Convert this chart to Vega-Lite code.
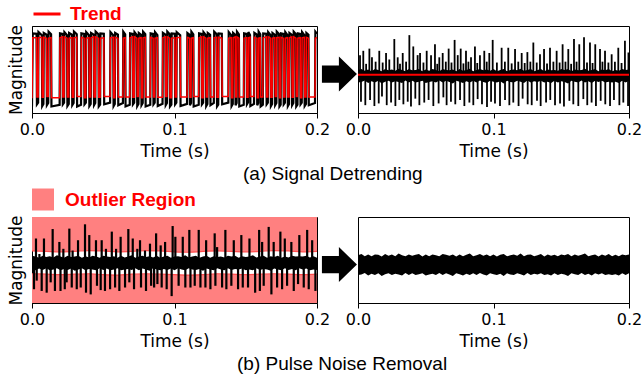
{
"$schema": "https://vega.github.io/schema/vega-lite/v6.json",
"padding": {"left": 6, "top": 0, "right": 0, "bottom": 0},
"config": {
 "view": {"stroke": "black", "strokeWidth": 1},
 "axis": {"labelFont": "DejaVu Sans", "titleFont": "DejaVu Sans", "labelFontSize": 16, "titleFontSize": 17, "titleFontWeight": "normal", "labelColor": "black", "titleColor": "black", "domainColor": "black", "tickColor": "black", "grid": false},
 "legend": {"padding": 0}
},
"datasets": {
"trend": [
{"t":0,"v":-0.66,"r":-0.85},
{"t":0.0005,"v":0.73,"r":0.83},
{"t":0.0032,"v":0.73,"r":0.82},{"t":0.00345,"v":-0.63,"r":-0.8},{"t":0.0043,"v":-0.63,"r":-0.76},{"t":0.00455,"v":0.73,"r":0.86},
{"t":0.0069,"v":0.74,"r":0.79},{"t":0.00715,"v":-0.64,"r":-0.84},{"t":0.008,"v":-0.64,"r":-0.79},{"t":0.00825,"v":0.74,"r":0.84},
{"t":0.0102,"v":0.72,"r":0.8},{"t":0.01045,"v":-0.62,"r":-0.82},{"t":0.0114,"v":-0.62,"r":-0.77},{"t":0.01165,"v":0.72,"r":0.87},
{"t":0.0134,"v":0.73,"r":0.81},{"t":0.01365,"v":-0.65,"r":-0.85},{"t":0.0194,"v":-0.65,"r":-0.81},{"t":0.01965,"v":0.73,"r":0.83},
{"t":0.0214,"v":0.75,"r":0.82},{"t":0.02165,"v":-0.63,"r":-0.8},{"t":0.0225,"v":-0.63,"r":-0.76},{"t":0.02275,"v":0.75,"r":0.86},
{"t":0.0246,"v":0.72,"r":0.79},{"t":0.02485,"v":-0.63,"r":-0.84},{"t":0.0258,"v":-0.63,"r":-0.79},{"t":0.02605,"v":0.72,"r":0.84},
{"t":0.028,"v":0.73,"r":0.8},{"t":0.02825,"v":-0.64,"r":-0.82},{"t":0.0292,"v":-0.64,"r":-0.77},{"t":0.02945,"v":0.73,"r":0.87},
{"t":0.0314,"v":0.74,"r":0.81},{"t":0.03165,"v":-0.62,"r":-0.85},{"t":0.0344,"v":-0.62,"r":-0.81},{"t":0.03465,"v":0.74,"r":0.83},
{"t":0.0366,"v":0.72,"r":0.82},{"t":0.03685,"v":-0.65,"r":-0.8},{"t":0.0378,"v":-0.65,"r":-0.76},{"t":0.03805,"v":0.72,"r":0.86},
{"t":0.04,"v":0.73,"r":0.79},{"t":0.04025,"v":-0.63,"r":-0.84},{"t":0.0412,"v":-0.63,"r":-0.79},{"t":0.04145,"v":0.73,"r":0.84},
{"t":0.0433,"v":0.75,"r":0.8},{"t":0.04355,"v":-0.63,"r":-0.82},{"t":0.0444,"v":-0.63,"r":-0.77},{"t":0.04465,"v":0.75,"r":0.87},
{"t":0.0466,"v":0.72,"r":0.81},{"t":0.04685,"v":-0.64,"r":-0.85},{"t":0.0478,"v":-0.64,"r":-0.81},{"t":0.04805,"v":0.72,"r":0.83},
{"t":0.0504,"v":0.73,"r":0.82},{"t":0.05065,"v":-0.62,"r":-0.8},{"t":0.0548,"v":-0.62,"r":-0.76},{"t":0.05505,"v":0.73,"r":0.86},
{"t":0.057,"v":0.74,"r":0.79},{"t":0.05725,"v":-0.65,"r":-0.84},{"t":0.0581,"v":-0.65,"r":-0.79},{"t":0.05835,"v":0.74,"r":0.84},
{"t":0.0603,"v":0.72,"r":0.8},{"t":0.06055,"v":-0.63,"r":-0.82},{"t":0.0638,"v":-0.63,"r":-0.77},{"t":0.06405,"v":0.72,"r":0.87},
{"t":0.0654,"v":0.73,"r":0.81},{"t":0.06565,"v":-0.63,"r":-0.85},{"t":0.0686,"v":-0.63,"r":-0.81},{"t":0.06885,"v":0.73,"r":0.83},
{"t":0.0706,"v":0.75,"r":0.82},{"t":0.07085,"v":-0.64,"r":-0.8},{"t":0.0717,"v":-0.64,"r":-0.76},{"t":0.07195,"v":0.75,"r":0.86},
{"t":0.0736,"v":0.72,"r":0.79},{"t":0.07385,"v":-0.62,"r":-0.84},{"t":0.0747,"v":-0.62,"r":-0.79},{"t":0.07495,"v":0.72,"r":0.84},
{"t":0.0766,"v":0.73,"r":0.8},{"t":0.07685,"v":-0.65,"r":-0.82},{"t":0.0777,"v":-0.65,"r":-0.77},{"t":0.07795,"v":0.73,"r":0.87},
{"t":0.0795,"v":0.74,"r":0.81},{"t":0.07975,"v":-0.63,"r":-0.85},{"t":0.083,"v":-0.63,"r":-0.81},{"t":0.08325,"v":0.74,"r":0.83},
{"t":0.085,"v":0.72,"r":0.82},{"t":0.08525,"v":-0.63,"r":-0.8},{"t":0.0861,"v":-0.63,"r":-0.76},{"t":0.08635,"v":0.72,"r":0.86},
{"t":0.088,"v":0.73,"r":0.79},{"t":0.08825,"v":-0.64,"r":-0.84},{"t":0.0916,"v":-0.64,"r":-0.79},{"t":0.09185,"v":0.73,"r":0.84},
{"t":0.0936,"v":0.75,"r":0.8},{"t":0.09385,"v":-0.62,"r":-0.82},{"t":0.0947,"v":-0.62,"r":-0.77},{"t":0.09495,"v":0.75,"r":0.87},
{"t":0.0966,"v":0.72,"r":0.81},{"t":0.09685,"v":-0.65,"r":-0.85},{"t":0.0978,"v":-0.65,"r":-0.81},{"t":0.09805,"v":0.72,"r":0.83},
{"t":0.1002,"v":0.73,"r":0.82},{"t":0.10045,"v":-0.63,"r":-0.8},{"t":0.1013,"v":-0.63,"r":-0.76},{"t":0.10155,"v":0.73,"r":0.86},
{"t":0.104,"v":0.74,"r":0.79},{"t":0.10425,"v":-0.63,"r":-0.84},{"t":0.1088,"v":-0.63,"r":-0.79},{"t":0.10905,"v":0.74,"r":0.84},
{"t":0.1106,"v":0.72,"r":0.8},{"t":0.11085,"v":-0.64,"r":-0.82},{"t":0.1116,"v":-0.64,"r":-0.77},{"t":0.11185,"v":0.72,"r":0.87},
{"t":0.1132,"v":0.73,"r":0.81},{"t":0.11345,"v":-0.62,"r":-0.85},{"t":0.117,"v":-0.62,"r":-0.81},{"t":0.11725,"v":0.73,"r":0.83},
{"t":0.119,"v":0.75,"r":0.82},{"t":0.11925,"v":-0.65,"r":-0.8},{"t":0.1201,"v":-0.65,"r":-0.76},{"t":0.12035,"v":0.75,"r":0.86},
{"t":0.122,"v":0.72,"r":0.79},{"t":0.12225,"v":-0.63,"r":-0.84},{"t":0.1231,"v":-0.63,"r":-0.79},{"t":0.12335,"v":0.72,"r":0.84},
{"t":0.125,"v":0.73,"r":0.8},{"t":0.12525,"v":-0.63,"r":-0.82},{"t":0.1276,"v":-0.63,"r":-0.77},{"t":0.12785,"v":0.73,"r":0.87},
{"t":0.1296,"v":0.74,"r":0.81},{"t":0.12985,"v":-0.64,"r":-0.85},{"t":0.1307,"v":-0.64,"r":-0.81},{"t":0.13095,"v":0.74,"r":0.83},
{"t":0.1332,"v":0.72,"r":0.82},{"t":0.13345,"v":-0.62,"r":-0.8},{"t":0.1378,"v":-0.62,"r":-0.76},{"t":0.13805,"v":0.72,"r":0.86},
{"t":0.1398,"v":0.73,"r":0.79},{"t":0.14005,"v":-0.65,"r":-0.84},{"t":0.1409,"v":-0.65,"r":-0.79},{"t":0.14115,"v":0.73,"r":0.84},
{"t":0.1426,"v":0.75,"r":0.8},{"t":0.14285,"v":-0.63,"r":-0.82},{"t":0.1436,"v":-0.63,"r":-0.77},{"t":0.14385,"v":0.75,"r":0.87},
{"t":0.1452,"v":0.72,"r":0.81},{"t":0.14545,"v":-0.63,"r":-0.85},{"t":0.1486,"v":-0.63,"r":-0.81},{"t":0.14885,"v":0.72,"r":0.83},
{"t":0.1506,"v":0.73,"r":0.82},{"t":0.15085,"v":-0.64,"r":-0.8},{"t":0.1516,"v":-0.64,"r":-0.76},{"t":0.15185,"v":0.73,"r":0.86},
{"t":0.153,"v":0.74,"r":0.79},{"t":0.15325,"v":-0.62,"r":-0.84},{"t":0.1558,"v":-0.62,"r":-0.79},{"t":0.15605,"v":0.74,"r":0.84},
{"t":0.1578,"v":0.72,"r":0.8},{"t":0.15805,"v":-0.65,"r":-0.82},{"t":0.1588,"v":-0.65,"r":-0.77},{"t":0.15905,"v":0.72,"r":0.87},
{"t":0.1602,"v":0.73,"r":0.81},{"t":0.16045,"v":-0.63,"r":-0.85},{"t":0.162,"v":-0.63,"r":-0.81},{"t":0.16225,"v":0.73,"r":0.83},
{"t":0.1644,"v":0.75,"r":0.82},{"t":0.16465,"v":-0.63,"r":-0.8},{"t":0.1655,"v":-0.63,"r":-0.76},{"t":0.16575,"v":0.75,"r":0.86},
{"t":0.1674,"v":0.72,"r":0.79},{"t":0.16765,"v":-0.64,"r":-0.84},{"t":0.1685,"v":-0.64,"r":-0.79},{"t":0.16875,"v":0.72,"r":0.84},
{"t":0.1704,"v":0.73,"r":0.8},{"t":0.17065,"v":-0.62,"r":-0.82},{"t":0.1715,"v":-0.62,"r":-0.77},{"t":0.17175,"v":0.73,"r":0.87},
{"t":0.1734,"v":0.74,"r":0.81},{"t":0.17365,"v":-0.65,"r":-0.85},{"t":0.1745,"v":-0.65,"r":-0.81},{"t":0.17475,"v":0.74,"r":0.83},
{"t":0.1764,"v":0.72,"r":0.82},{"t":0.17665,"v":-0.63,"r":-0.8},{"t":0.1775,"v":-0.63,"r":-0.76},{"t":0.17775,"v":0.72,"r":0.86},
{"t":0.1793,"v":0.73,"r":0.79},{"t":0.17955,"v":-0.63,"r":-0.84},{"t":0.1804,"v":-0.63,"r":-0.79},{"t":0.18065,"v":0.73,"r":0.84},
{"t":0.1823,"v":0.75,"r":0.8},{"t":0.18255,"v":-0.64,"r":-0.82},{"t":0.1834,"v":-0.64,"r":-0.77},{"t":0.18365,"v":0.75,"r":0.87},
{"t":0.1852,"v":0.72,"r":0.81},{"t":0.18545,"v":-0.62,"r":-0.85},{"t":0.1863,"v":-0.62,"r":-0.81},{"t":0.18655,"v":0.72,"r":0.83},
{"t":0.1882,"v":0.73,"r":0.82},{"t":0.18845,"v":-0.65,"r":-0.8},{"t":0.1893,"v":-0.65,"r":-0.76},{"t":0.18955,"v":0.73,"r":0.86},
{"t":0.1911,"v":0.74,"r":0.79},{"t":0.19135,"v":-0.63,"r":-0.84},{"t":0.1923,"v":-0.63,"r":-0.79},{"t":0.19255,"v":0.74,"r":0.84},
{"t":0.194,"v":0.72,"r":0.8},{"t":0.19425,"v":-0.63,"r":-0.82},{"t":0.1986,"v":-0.63,"r":-0.77},{"t":0.19885,"v":0.72,"r":0.87},
{"t":0.2,"v":0.73,"r":0.82}
],
"noise": [
{"t":0,"a":0.11,"b":-0.18,"c":0.15,"d":-0.17,"e":0.22,"f":-0.24},
{"t":0.0025,"a":0.13,"b":-0.17,"c":0.13,"d":-0.19,"e":0.25,"f":-0.23},
{"t":0.005,"a":0.09,"b":-0.13,"c":0.1,"d":-0.15,"e":0.2,"f":-0.19},
{"t":0.0075,"a":0.12,"b":-0.19,"c":0.15,"d":-0.18,"e":0.24,"f":-0.25},
{"t":0.01,"a":0.08,"b":-0.15,"c":0.12,"d":-0.14,"e":0.2,"f":-0.21},
{"t":0.0125,"a":0.13,"b":-0.18,"c":0.14,"d":-0.19,"e":0.24,"f":-0.24},
{"t":0.015,"a":0.11,"b":-0.14,"c":0.11,"d":-0.17,"e":0.23,"f":-0.2},
{"t":0.0175,"a":0.08,"b":-0.2,"c":0.16,"d":-0.14,"e":0.19,"f":-0.26},
{"t":0.02,"a":0.13,"b":-0.16,"c":0.13,"d":-0.19,"e":0.25,"f":-0.22},
{"t":0.0225,"a":0.1,"b":-0.14,"c":0.1,"d":-0.16,"e":0.21,"f":-0.2},
{"t":0.025,"a":0.12,"b":-0.18,"c":0.15,"d":-0.18,"e":0.24,"f":-0.24},
{"t":0.0275,"a":0.09,"b":-0.15,"c":0.12,"d":-0.15,"e":0.2,"f":-0.21},
{"t":0.03,"a":0.14,"b":-0.17,"c":0.13,"d":-0.2,"e":0.26,"f":-0.23},
{"t":0.0325,"a":0.11,"b":-0.19,"c":0.15,"d":-0.17,"e":0.22,"f":-0.25},
{"t":0.035,"a":0.08,"b":-0.13,"c":0.1,"d":-0.14,"e":0.2,"f":-0.19},
{"t":0.0375,"a":0.13,"b":-0.18,"c":0.14,"d":-0.19,"e":0.24,"f":-0.24},
{"t":0.04,"a":0.1,"b":-0.14,"c":0.11,"d":-0.16,"e":0.21,"f":-0.2},
{"t":0.0425,"a":0.11,"b":-0.18,"c":0.15,"d":-0.17,"e":0.23,"f":-0.24},
{"t":0.045,"a":0.13,"b":-0.16,"c":0.13,"d":-0.19,"e":0.25,"f":-0.22},
{"t":0.0475,"a":0.08,"b":-0.14,"c":0.1,"d":-0.14,"e":0.19,"f":-0.2},
{"t":0.05,"a":0.12,"b":-0.19,"c":0.15,"d":-0.18,"e":0.24,"f":-0.25},
{"t":0.0525,"a":0.09,"b":-0.17,"c":0.13,"d":-0.15,"e":0.2,"f":-0.23},
{"t":0.055,"a":0.13,"b":-0.15,"c":0.12,"d":-0.19,"e":0.24,"f":-0.21},
{"t":0.0575,"a":0.11,"b":-0.18,"c":0.14,"d":-0.17,"e":0.22,"f":-0.24},
{"t":0.06,"a":0.08,"b":-0.13,"c":0.1,"d":-0.14,"e":0.2,"f":-0.19},
{"t":0.0625,"a":0.13,"b":-0.18,"c":0.15,"d":-0.19,"e":0.25,"f":-0.24},
{"t":0.065,"a":0.11,"b":-0.14,"c":0.11,"d":-0.17,"e":0.23,"f":-0.2},
{"t":0.0675,"a":0.1,"b":-0.17,"c":0.13,"d":-0.16,"e":0.21,"f":-0.23},
{"t":0.07,"a":0.12,"b":-0.2,"c":0.16,"d":-0.18,"e":0.24,"f":-0.26},
{"t":0.0725,"a":0.08,"b":-0.14,"c":0.1,"d":-0.14,"e":0.19,"f":-0.2},
{"t":0.075,"a":0.13,"b":-0.16,"c":0.13,"d":-0.19,"e":0.24,"f":-0.22},
{"t":0.0775,"a":0.09,"b":-0.19,"c":0.15,"d":-0.15,"e":0.2,"f":-0.25},
{"t":0.08,"a":0.11,"b":-0.15,"c":0.12,"d":-0.17,"e":0.23,"f":-0.21},
{"t":0.0825,"a":0.14,"b":-0.18,"c":0.14,"d":-0.2,"e":0.26,"f":-0.24},
{"t":0.085,"a":0.08,"b":-0.14,"c":0.11,"d":-0.14,"e":0.2,"f":-0.2},
{"t":0.0875,"a":0.11,"b":-0.18,"c":0.15,"d":-0.17,"e":0.22,"f":-0.24},
{"t":0.09,"a":0.13,"b":-0.13,"c":0.1,"d":-0.19,"e":0.25,"f":-0.19},
{"t":0.0925,"a":0.1,"b":-0.17,"c":0.13,"d":-0.16,"e":0.21,"f":-0.23},
{"t":0.095,"a":0.12,"b":-0.19,"c":0.15,"d":-0.18,"e":0.24,"f":-0.25},
{"t":0.0975,"a":0.09,"b":-0.14,"c":0.1,"d":-0.15,"e":0.2,"f":-0.2},
{"t":0.1,"a":0.13,"b":-0.16,"c":0.13,"d":-0.19,"e":0.24,"f":-0.22},
{"t":0.1025,"a":0.08,"b":-0.18,"c":0.14,"d":-0.14,"e":0.19,"f":-0.24},
{"t":0.105,"a":0.11,"b":-0.15,"c":0.12,"d":-0.17,"e":0.23,"f":-0.21},
{"t":0.1075,"a":0.13,"b":-0.2,"c":0.16,"d":-0.19,"e":0.25,"f":-0.26},
{"t":0.11,"a":0.08,"b":-0.14,"c":0.11,"d":-0.14,"e":0.2,"f":-0.2},
{"t":0.1125,"a":0.11,"b":-0.17,"c":0.13,"d":-0.17,"e":0.22,"f":-0.23},
{"t":0.115,"a":0.12,"b":-0.18,"c":0.15,"d":-0.18,"e":0.24,"f":-0.24},
{"t":0.1175,"a":0.1,"b":-0.14,"c":0.1,"d":-0.16,"e":0.21,"f":-0.2},
{"t":0.12,"a":0.14,"b":-0.16,"c":0.13,"d":-0.2,"e":0.26,"f":-0.22},
{"t":0.1225,"a":0.09,"b":-0.19,"c":0.15,"d":-0.15,"e":0.2,"f":-0.25},
{"t":0.125,"a":0.11,"b":-0.13,"c":0.1,"d":-0.17,"e":0.23,"f":-0.19},
{"t":0.1275,"a":0.13,"b":-0.18,"c":0.14,"d":-0.19,"e":0.24,"f":-0.24},
{"t":0.13,"a":0.08,"b":-0.15,"c":0.12,"d":-0.14,"e":0.2,"f":-0.21},
{"t":0.1325,"a":0.11,"b":-0.17,"c":0.13,"d":-0.17,"e":0.22,"f":-0.23},
{"t":0.135,"a":0.13,"b":-0.14,"c":0.11,"d":-0.19,"e":0.25,"f":-0.2},
{"t":0.1375,"a":0.08,"b":-0.18,"c":0.15,"d":-0.14,"e":0.19,"f":-0.24},
{"t":0.14,"a":0.12,"b":-0.16,"c":0.13,"d":-0.18,"e":0.24,"f":-0.22},
{"t":0.1425,"a":0.1,"b":-0.19,"c":0.15,"d":-0.16,"e":0.21,"f":-0.25},
{"t":0.145,"a":0.11,"b":-0.14,"c":0.1,"d":-0.17,"e":0.23,"f":-0.2},
{"t":0.1475,"a":0.09,"b":-0.18,"c":0.14,"d":-0.15,"e":0.2,"f":-0.24},
{"t":0.15,"a":0.13,"b":-0.15,"c":0.12,"d":-0.19,"e":0.24,"f":-0.21},
{"t":0.1525,"a":0.11,"b":-0.17,"c":0.13,"d":-0.17,"e":0.22,"f":-0.23},
{"t":0.155,"a":0.13,"b":-0.2,"c":0.16,"d":-0.19,"e":0.25,"f":-0.26},
{"t":0.1575,"a":0.08,"b":-0.14,"c":0.11,"d":-0.14,"e":0.2,"f":-0.2},
{"t":0.16,"a":0.12,"b":-0.16,"c":0.13,"d":-0.18,"e":0.24,"f":-0.22},
{"t":0.1625,"a":0.1,"b":-0.18,"c":0.15,"d":-0.16,"e":0.21,"f":-0.24},
{"t":0.165,"a":0.11,"b":-0.13,"c":0.1,"d":-0.17,"e":0.23,"f":-0.19},
{"t":0.1675,"a":0.14,"b":-0.18,"c":0.14,"d":-0.2,"e":0.26,"f":-0.24},
{"t":0.17,"a":0.09,"b":-0.15,"c":0.12,"d":-0.15,"e":0.2,"f":-0.21},
{"t":0.1725,"a":0.11,"b":-0.19,"c":0.15,"d":-0.17,"e":0.22,"f":-0.25},
{"t":0.175,"a":0.13,"b":-0.14,"c":0.1,"d":-0.19,"e":0.24,"f":-0.2},
{"t":0.1775,"a":0.08,"b":-0.17,"c":0.13,"d":-0.14,"e":0.19,"f":-0.23},
{"t":0.18,"a":0.12,"b":-0.14,"c":0.11,"d":-0.18,"e":0.24,"f":-0.2},
{"t":0.1825,"a":0.1,"b":-0.18,"c":0.15,"d":-0.16,"e":0.21,"f":-0.24},
{"t":0.185,"a":0.13,"b":-0.16,"c":0.13,"d":-0.19,"e":0.25,"f":-0.22},
{"t":0.1875,"a":0.08,"b":-0.18,"c":0.14,"d":-0.14,"e":0.2,"f":-0.24},
{"t":0.19,"a":0.11,"b":-0.16,"c":0.13,"d":-0.17,"e":0.23,"f":-0.22},
{"t":0.1925,"a":0.09,"b":-0.19,"c":0.15,"d":-0.15,"e":0.2,"f":-0.25},
{"t":0.195,"a":0.13,"b":-0.14,"c":0.11,"d":-0.19,"e":0.24,"f":-0.2},
{"t":0.1975,"a":0.11,"b":-0.18,"c":0.14,"d":-0.17,"e":0.22,"f":-0.24},
{"t":0.2,"a":0.12,"b":-0.14,"c":0.1,"d":-0.18,"e":0.24,"f":-0.2}
],
"thr": [
{"t":0,"g":0.26,"h":-0.27},{"t":0.01,"g":0.25,"h":-0.28},{"t":0.02,"g":0.24,"h":-0.29},{"t":0.03,"g":0.25,"h":-0.28},
{"t":0.04,"g":0.27,"h":-0.27},{"t":0.05,"g":0.26,"h":-0.29},{"t":0.06,"g":0.24,"h":-0.3},{"t":0.07,"g":0.25,"h":-0.28},
{"t":0.08,"g":0.27,"h":-0.27},{"t":0.09,"g":0.26,"h":-0.28},{"t":0.1,"g":0.24,"h":-0.29},{"t":0.11,"g":0.23,"h":-0.3},
{"t":0.12,"g":0.25,"h":-0.29},{"t":0.13,"g":0.26,"h":-0.27},{"t":0.14,"g":0.25,"h":-0.28},{"t":0.15,"g":0.24,"h":-0.29},
{"t":0.16,"g":0.25,"h":-0.28},{"t":0.17,"g":0.27,"h":-0.27},{"t":0.18,"g":0.26,"h":-0.28},{"t":0.19,"g":0.24,"h":-0.29},
{"t":0.2,"g":0.25,"h":-0.28}
],
"spk_tr": [
{"t":0.0015,"y":0.45},{"t":0.0039,"y":0.55},{"t":0.006,"y":0.25},{"t":0.0084,"y":0.6},{"t":0.0103,"y":0.4},{"t":0.013,"y":0.3},
{"t":0.0157,"y":0.55},{"t":0.0182,"y":0.28},{"t":0.0207,"y":0.5},{"t":0.0231,"y":0.35},{"t":0.0268,"y":0.82},{"t":0.0293,"y":0.4},
{"t":0.031,"y":0.25},{"t":0.033,"y":0.5},{"t":0.0355,"y":0.3},{"t":0.0379,"y":0.91},{"t":0.0408,"y":0.65},{"t":0.044,"y":0.45},
{"t":0.0458,"y":0.5},{"t":0.0483,"y":0.28},{"t":0.0507,"y":0.55},{"t":0.0539,"y":0.45},{"t":0.0568,"y":0.7},{"t":0.0585,"y":0.25},
{"t":0.06,"y":0.4},{"t":0.0625,"y":0.5},{"t":0.0648,"y":0.3},{"t":0.0669,"y":0.6},{"t":0.069,"y":0.28},{"t":0.0713,"y":0.8},
{"t":0.0736,"y":0.45},{"t":0.0758,"y":0.6},{"t":0.0778,"y":0.26},{"t":0.0797,"y":0.55},{"t":0.0815,"y":0.3},{"t":0.0834,"y":0.4},
{"t":0.0863,"y":0.65},{"t":0.088,"y":0.27},{"t":0.09,"y":0.45},{"t":0.0932,"y":0.55},{"t":0.095,"y":0.3},{"t":0.0969,"y":0.5},
{"t":0.0994,"y":0.8},{"t":0.1025,"y":0.28},{"t":0.106,"y":0.62},{"t":0.1084,"y":0.3},{"t":0.1109,"y":0.62},{"t":0.1134,"y":0.26},
{"t":0.1159,"y":0.59},{"t":0.1183,"y":0.3},{"t":0.1208,"y":0.5},{"t":0.123,"y":0.27},{"t":0.125,"y":0.52},{"t":0.1272,"y":0.3},
{"t":0.1294,"y":0.74},{"t":0.1319,"y":0.28},{"t":0.1343,"y":0.47},{"t":0.1373,"y":0.59},{"t":0.1395,"y":0.26},{"t":0.1417,"y":0.62},
{"t":0.1442,"y":0.3},{"t":0.1466,"y":0.55},{"t":0.1488,"y":0.28},{"t":0.151,"y":0.7},{"t":0.1531,"y":0.3},{"t":0.1552,"y":0.59},
{"t":0.1573,"y":0.25},{"t":0.1594,"y":0.82},{"t":0.1613,"y":0.3},{"t":0.1633,"y":0.7},{"t":0.1668,"y":0.86},{"t":0.169,"y":0.28},
{"t":0.1712,"y":0.74},{"t":0.1731,"y":0.27},{"t":0.1751,"y":0.7},{"t":0.1786,"y":0.59},{"t":0.1804,"y":0.3},{"t":0.1823,"y":0.55},
{"t":0.1848,"y":0.28},{"t":0.1872,"y":0.47},{"t":0.1896,"y":0.3},{"t":0.1921,"y":0.62},{"t":0.1945,"y":0.27},{"t":0.197,"y":0.78},
{"t":0.1996,"y":0.51},
{"t":0.0022,"y":-0.62},{"t":0.0054,"y":-0.7},{"t":0.0089,"y":-0.58},{"t":0.0121,"y":-0.72},{"t":0.0153,"y":-0.66},{"t":0.0177,"y":-0.5},
{"t":0.0212,"y":-0.7},{"t":0.0244,"y":-0.64},{"t":0.0276,"y":-0.72},{"t":0.0305,"y":-0.58},{"t":0.0335,"y":-0.68},{"t":0.0367,"y":-0.62},
{"t":0.0391,"y":-0.73},{"t":0.0423,"y":-0.55},{"t":0.0453,"y":-0.7},{"t":0.0489,"y":-0.64},{"t":0.0521,"y":-0.58},{"t":0.0556,"y":-0.72},
{"t":0.0595,"y":-0.66},{"t":0.063,"y":-0.52},{"t":0.0654,"y":-0.7},{"t":0.0686,"y":-0.62},{"t":0.0718,"y":-0.68},{"t":0.0753,"y":-0.58},
{"t":0.0785,"y":-0.72},{"t":0.0822,"y":-0.64},{"t":0.0851,"y":-0.7},{"t":0.0883,"y":-0.56},{"t":0.0915,"y":-0.68},{"t":0.0952,"y":-0.74},
{"t":0.0982,"y":-0.62},{"t":0.1011,"y":-0.66},{"t":0.1048,"y":-0.72},{"t":0.1085,"y":-0.58},{"t":0.1117,"y":-0.7},{"t":0.1146,"y":-0.64},
{"t":0.1185,"y":-0.72},{"t":0.1215,"y":-0.55},{"t":0.1252,"y":-0.68},{"t":0.1282,"y":-0.7},{"t":0.1321,"y":-0.6},{"t":0.1348,"y":-0.72},
{"t":0.1388,"y":-0.64},{"t":0.1419,"y":-0.58},{"t":0.1454,"y":-0.7},{"t":0.1491,"y":-0.66},{"t":0.152,"y":-0.73},{"t":0.156,"y":-0.6},
{"t":0.1589,"y":-0.68},{"t":0.1626,"y":-0.72},{"t":0.1663,"y":-0.56},{"t":0.1692,"y":-0.7},{"t":0.1724,"y":-0.64},{"t":0.1756,"y":-0.72},
{"t":0.1791,"y":-0.6},{"t":0.1825,"y":-0.68},{"t":0.186,"y":-0.72},{"t":0.1889,"y":-0.58},{"t":0.1929,"y":-0.7},{"t":0.1958,"y":-0.64},
{"t":0.1993,"y":-0.72}
],
"spk_bl": [
{"t":0.0028,"y":0.55},{"t":0.0052,"y":0.19},{"t":0.0084,"y":0.55},{"t":0.0145,"y":0.77},{"t":0.0192,"y":0.47},{"t":0.022,"y":0.31},
{"t":0.0262,"y":0.78},{"t":0.0285,"y":0.27},{"t":0.0323,"y":0.51},{"t":0.0372,"y":0.88},{"t":0.0402,"y":0.63},{"t":0.0449,"y":0.51},
{"t":0.0489,"y":0.51},{"t":0.0519,"y":0.31},{"t":0.056,"y":0.71},{"t":0.059,"y":0.31},{"t":0.0622,"y":0.59},{"t":0.0676,"y":0.77},
{"t":0.0707,"y":0.55},{"t":0.0739,"y":0.31},{"t":0.0758,"y":0.51},{"t":0.0793,"y":0.27},{"t":0.0828,"y":0.43},{"t":0.0871,"y":0.67},
{"t":0.0903,"y":0.39},{"t":0.0934,"y":0.47},{"t":0.0987,"y":0.84},{"t":0.1006,"y":0.59},{"t":0.1058,"y":0.59},{"t":0.1104,"y":0.75},
{"t":0.117,"y":0.75},{"t":0.1222,"y":0.51},{"t":0.1282,"y":0.67},{"t":0.1299,"y":0.35},{"t":0.1357,"y":0.75},{"t":0.1416,"y":0.51},
{"t":0.1469,"y":0.63},{"t":0.1526,"y":0.55},{"t":0.1594,"y":0.75},{"t":0.1615,"y":0.47},{"t":0.1661,"y":0.82},{"t":0.1696,"y":0.47},
{"t":0.1743,"y":0.71},{"t":0.1774,"y":0.55},{"t":0.182,"y":0.47},{"t":0.1876,"y":0.63},{"t":0.1931,"y":0.75},{"t":0.1966,"y":0.51},
{"t":0.0014,"y":-0.63},{"t":0.0033,"y":-0.43},{"t":0.0068,"y":-0.67},{"t":0.0103,"y":-0.71},{"t":0.0131,"y":-0.47},{"t":0.0161,"y":-0.67},
{"t":0.02,"y":-0.67},{"t":0.023,"y":-0.63},{"t":0.0243,"y":-0.47},{"t":0.0279,"y":-0.59},{"t":0.0314,"y":-0.63},{"t":0.0342,"y":-0.59},
{"t":0.0379,"y":-0.71},{"t":0.0412,"y":-0.75},{"t":0.0456,"y":-0.55},{"t":0.0482,"y":-0.65},{"t":0.0512,"y":-0.67},{"t":0.0548,"y":-0.63},
{"t":0.0583,"y":-0.59},{"t":0.0613,"y":-0.67},{"t":0.0653,"y":-0.59},{"t":0.0683,"y":-0.47},{"t":0.0716,"y":-0.63},{"t":0.0765,"y":-0.59},
{"t":0.08,"y":-0.67},{"t":0.0836,"y":-0.55},{"t":0.0857,"y":-0.59},{"t":0.088,"y":-0.51},{"t":0.091,"y":-0.59},{"t":0.0945,"y":-0.63},
{"t":0.098,"y":-0.79},{"t":0.1029,"y":-0.55},{"t":0.1076,"y":-0.59},{"t":0.1112,"y":-0.59},{"t":0.1142,"y":-0.55},{"t":0.1182,"y":-0.59},
{"t":0.1217,"y":-0.59},{"t":0.1252,"y":-0.63},{"t":0.1287,"y":-0.55},{"t":0.1334,"y":-0.59},{"t":0.1364,"y":-0.63},{"t":0.1399,"y":-0.55},
{"t":0.1446,"y":-0.63},{"t":0.1479,"y":-0.59},{"t":0.1516,"y":-0.59},{"t":0.1566,"y":-0.71},{"t":0.1599,"y":-0.67},{"t":0.1626,"y":-0.55},
{"t":0.168,"y":-0.75},{"t":0.172,"y":-0.59},{"t":0.1755,"y":-0.63},{"t":0.179,"y":-0.55},{"t":0.1837,"y":-0.67},{"t":0.1867,"y":-0.51},
{"t":0.1907,"y":-0.59},{"t":0.1942,"y":-0.63},{"t":0.1989,"y":-0.67}
]
},
"resolve": {"scale": {"color": "independent"}, "legend": {"color": "independent"}},
"spacing": 3,
"vconcat": [
{
 "title": {"text": "(a) Signal Detrending", "orient": "bottom", "anchor": "start", "frame": "group", "dx": 211, "font": "Liberation Sans", "fontSize": 19, "fontWeight": "normal", "color": "black", "offset": 5.5},
 "spacing": 0,
 "bounds": "flush",
 "resolve": {"scale": {"color": "independent"}, "legend": {"color": "independent"}},
 "hconcat": [
  {
   "width": 285, "height": 87,
   "data": {"name": "trend"},
   "layer": [
    {"mark": {"type": "line", "color": "black", "strokeWidth": 2.2, "clip": true},
     "encoding": {
      "x": {"field": "t", "type": "quantitative", "scale": {"domain": [0, 0.2], "nice": false, "zero": false}, "axis": {"values": [0, 0.1, 0.2], "format": ".1f", "title": "Time (s)", "labelFlush": false, "labelOverlap": false, "tickSize": 5, "labelPadding": 3.2, "titlePadding": 6}},
      "y": {"field": "r", "type": "quantitative", "scale": {"domain": [-1, 1], "nice": false, "zero": false}, "axis": {"title": "Magnitude", "labels": false, "ticks": false, "titlePadding": 7}}}},
    {"mark": {"type": "line", "strokeWidth": 1.5, "clip": true},
     "encoding": {
      "x": {"field": "t", "type": "quantitative", "scale": {"domain": [0, 0.2], "nice": false, "zero": false}, "axis": {"values": [0, 0.1, 0.2], "format": ".1f", "title": "Time (s)", "labelFlush": false, "labelOverlap": false, "tickSize": 5, "labelPadding": 3.2, "titlePadding": 6}},
      "y": {"field": "v", "type": "quantitative", "scale": {"domain": [-1, 1], "nice": false, "zero": false}, "axis": {"title": "Magnitude", "labels": false, "ticks": false, "titlePadding": 7}},
      "color": {"datum": "Trend", "scale": {"range": ["#ff0000"]}, "legend": {"orient": "none", "legendX": 0, "legendY": -25, "clipHeight": 26, "title": null, "symbolType": "stroke", "symbolSize": 729, "symbolStrokeWidth": 3, "labelFont": "Liberation Sans", "labelFontSize": 19, "labelFontWeight": "bold", "labelColor": "#ff0000", "labelOffset": 8}}}}
   ]
  },
  {
   "width": 41, "height": 87,
   "view": {"stroke": null},
   "data": {"values": [{"step": "detrend"}]},
   "mark": {"type": "point", "shape": "M-0.89,-0.23L0.08,-0.23L0.08,-0.74L1.11,0.26L0.08,1.26L0.08,0.75L-0.89,0.75Z", "size": 1225, "filled": true, "color": "black", "opacity": 1},
   "encoding": {}
  },
  {
   "width": 271, "height": 87,
   "layer": [
    {"data": {"name": "noise"}, "mark": {"type": "area", "color": "black", "opacity": 1, "clip": true},
     "encoding": {
      "x": {"field": "t", "type": "quantitative", "scale": {"domain": [0, 0.2], "nice": false, "zero": false}, "axis": {"values": [0, 0.1, 0.2], "format": ".1f", "title": "Time (s)", "labelFlush": false, "labelOverlap": false, "tickSize": 5, "labelPadding": 3.2, "titlePadding": 6}},
      "y": {"field": "a", "type": "quantitative", "scale": {"domain": [-0.88, 1.12], "nice": false, "zero": false}, "axis": null},
      "y2": {"field": "b"}}},
    {"data": {"name": "spk_tr"}, "mark": {"type": "rule", "color": "black", "strokeWidth": 1.8, "clip": true},
     "encoding": {
      "x": {"field": "t", "type": "quantitative", "scale": {"domain": [0, 0.2], "nice": false, "zero": false}, "axis": {"values": [0, 0.1, 0.2], "format": ".1f", "title": "Time (s)", "labelFlush": false, "labelOverlap": false, "tickSize": 5, "labelPadding": 3.2, "titlePadding": 6}},
      "y": {"field": "y", "type": "quantitative", "scale": {"domain": [-0.88, 1.12], "nice": false, "zero": false}, "axis": null},
      "y2": {"datum": 0}}},
    {"data": {"values": [{"level": "trend"}]}, "mark": {"type": "rule", "color": "#ff0000", "strokeWidth": 2},
     "encoding": {"y": {"datum": 0, "type": "quantitative", "scale": {"domain": [-0.88, 1.12], "nice": false, "zero": false}, "axis": null}}}
   ]
  }
 ]
},
{
 "title": {"text": "(b) Pulse Noise Removal", "orient": "bottom", "anchor": "start", "frame": "group", "dx": 205, "font": "Liberation Sans", "fontSize": 19, "fontWeight": "normal", "color": "black", "offset": 5.5},
 "spacing": 0,
 "bounds": "flush",
 "resolve": {"scale": {"color": "independent"}, "legend": {"color": "independent"}},
 "hconcat": [
  {
   "width": 285, "height": 86,
   "layer": [
    {"data": {"name": "thr"}, "mark": {"type": "area", "opacity": 1, "interpolate": "monotone", "clip": true},
     "encoding": {
      "x": {"field": "t", "type": "quantitative", "scale": {"domain": [0, 0.2], "nice": false, "zero": false}, "axis": {"values": [0, 0.1, 0.2], "format": ".1f", "title": "Time (s)", "labelFlush": false, "labelOverlap": false, "tickSize": 5, "labelPadding": 3.2, "titlePadding": 6}},
      "y": {"field": "g", "type": "quantitative", "scale": {"domain": [-0.95, 1.05], "nice": false, "zero": false}, "axis": {"title": "Magnitude", "labels": false, "ticks": false, "titlePadding": 7}},
      "y2": {"datum": 1.05},
      "color": {"datum": "Outlier Region", "scale": {"range": ["#ff8080"]}, "legend": {"orient": "none", "legendX": 0, "legendY": -28.5, "title": null, "symbolType": "square", "symbolSize": 484, "symbolStrokeWidth": 0, "symbolOpacity": 1, "labelFont": "Liberation Sans", "labelFontSize": 19, "labelFontWeight": "bold", "labelColor": "#ff0000", "labelOffset": 11}}}},
    {"data": {"name": "thr"}, "mark": {"type": "area", "opacity": 1, "interpolate": "monotone", "clip": true},
     "encoding": {
      "x": {"field": "t", "type": "quantitative", "scale": {"domain": [0, 0.2], "nice": false, "zero": false}, "axis": {"values": [0, 0.1, 0.2], "format": ".1f", "title": "Time (s)", "labelFlush": false, "labelOverlap": false, "tickSize": 5, "labelPadding": 3.2, "titlePadding": 6}},
      "y": {"field": "h", "type": "quantitative", "scale": {"domain": [-0.95, 1.05], "nice": false, "zero": false}, "axis": {"title": "Magnitude", "labels": false, "ticks": false, "titlePadding": 7}},
      "y2": {"datum": -0.95},
      "color": {"datum": "Outlier Region"}}},
    {"data": {"name": "thr"}, "mark": {"type": "line", "color": "#ff4d4d", "strokeWidth": 1.2, "interpolate": "monotone", "clip": true},
     "encoding": {
      "x": {"field": "t", "type": "quantitative"},
      "y": {"field": "g", "type": "quantitative"}}},
    {"data": {"name": "thr"}, "mark": {"type": "line", "color": "#ff4d4d", "strokeWidth": 1.2, "interpolate": "monotone", "clip": true},
     "encoding": {
      "x": {"field": "t", "type": "quantitative"},
      "y": {"field": "h", "type": "quantitative"}}},
    {"data": {"name": "noise"}, "mark": {"type": "area", "color": "black", "opacity": 1, "clip": true},
     "encoding": {
      "x": {"field": "t", "type": "quantitative"},
      "y": {"field": "c", "type": "quantitative"},
      "y2": {"field": "d"}}},
    {"data": {"name": "spk_bl"}, "mark": {"type": "rule", "color": "black", "strokeWidth": 2.2, "clip": true},
     "encoding": {
      "x": {"field": "t", "type": "quantitative"},
      "y": {"field": "y", "type": "quantitative"},
      "y2": {"datum": 0}}}
   ]
  },
  {
   "width": 41, "height": 86,
   "view": {"stroke": null},
   "data": {"values": [{"step": "remove"}]},
   "mark": {"type": "point", "shape": "M-0.89,-0.23L0.08,-0.23L0.08,-0.74L1.11,0.26L0.08,1.26L0.08,0.75L-0.89,0.75Z", "size": 1225, "filled": true, "color": "black", "opacity": 1},
   "encoding": {}
  },
  {
   "width": 271, "height": 86,
   "data": {"name": "noise"},
   "mark": {"type": "area", "color": "black", "opacity": 1, "clip": true},
   "encoding": {
    "x": {"field": "t", "type": "quantitative", "scale": {"domain": [0, 0.2], "nice": false, "zero": false}, "axis": {"values": [0, 0.1, 0.2], "format": ".1f", "title": "Time (s)", "labelFlush": false, "labelOverlap": false, "tickSize": 5, "labelPadding": 3.2, "titlePadding": 6}},
    "y": {"field": "e", "type": "quantitative", "scale": {"domain": [-0.89, 1.11], "nice": false, "zero": false}, "axis": null},
    "y2": {"field": "f"}}
  }
 ]
}
]
}
